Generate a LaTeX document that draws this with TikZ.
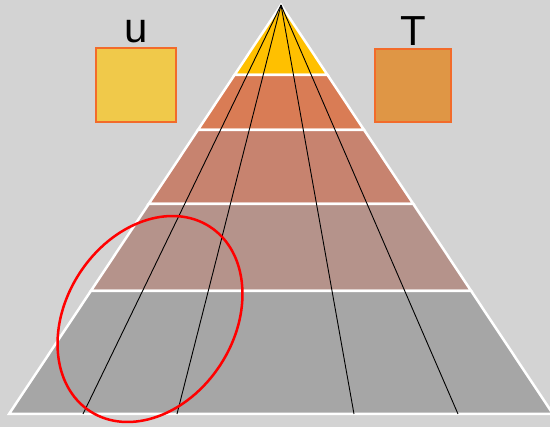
\documentclass[tikz,border=0pt]{standalone}
\usepackage{fontspec}
\setmainfont{Liberation Sans}
\usetikzlibrary{positioning}
\definecolor{backdrop}{HTML}{D3D3D3}
\definecolor{layerA}{HTML}{FFC000}
\definecolor{layerB}{HTML}{D97C55}
\definecolor{layerC}{HTML}{C7836F}
\definecolor{layerD}{HTML}{B5938B}
\definecolor{layerE}{HTML}{A6A6A6}
\definecolor{ufill}{HTML}{F0C94A}
\definecolor{tfill}{HTML}{DF9645}
\definecolor{boxline}{HTML}{F26B2A}
\begin{document}
\begin{tikzpicture}[x=1pt,y=-1pt,
    layer/.style={draw=white, line width=2.5pt, line join=miter},
    ray/.style={black, line width=0.9pt},
    swatch/.style={draw=boxline, line width=2pt, inner sep=0pt},
    lbl/.style={inner sep=0pt, font=\fontsize{42}{42}\selectfont}]
  \fill[backdrop] (0,0) rectangle (550,427);
  \useasboundingbox (0,0) rectangle (550,427);
  \coordinate (apex) at (281,5);
  % layers of the pyramid
  \foreach \ya/\yb/\c in {5/75/layerA, 75/130/layerB, 130/204/layerC, 204/291/layerD, 291/414/layerE} {
    \filldraw[layer, fill=\c] ({281-0.665*(\ya-5)},\ya) -- ({281+0.665*(\ya-5)},\ya)
      -- ({281+0.665*(\yb-5)},\yb) -- ({281-0.665*(\yb-5)},\yb) -- cycle;
  }
  % rays from the apex
  \foreach \x [count=\i] in {83,177,354,458} {
    \coordinate (foot\i) at (\x,414);
    \draw[ray] (apex) -- (foot\i);
  }
  \draw[red, line width=2.5pt, rotate around={-33:(150,319)}] (150,319) ellipse [x radius=84, y radius=110];
  % swatches
  \node[swatch, fill=ufill, minimum width=80pt, minimum height=74pt] (ubox) at (136,85) {};
  \node[lbl, above=4pt of ubox] (ulbl) {u};
  \node[swatch, fill=tfill, minimum width=76pt, minimum height=73pt] (tbox) at (413,85.5) {};
  \node[lbl, above=2pt of tbox] (tlbl) {T};
\end{tikzpicture}
\end{document}
